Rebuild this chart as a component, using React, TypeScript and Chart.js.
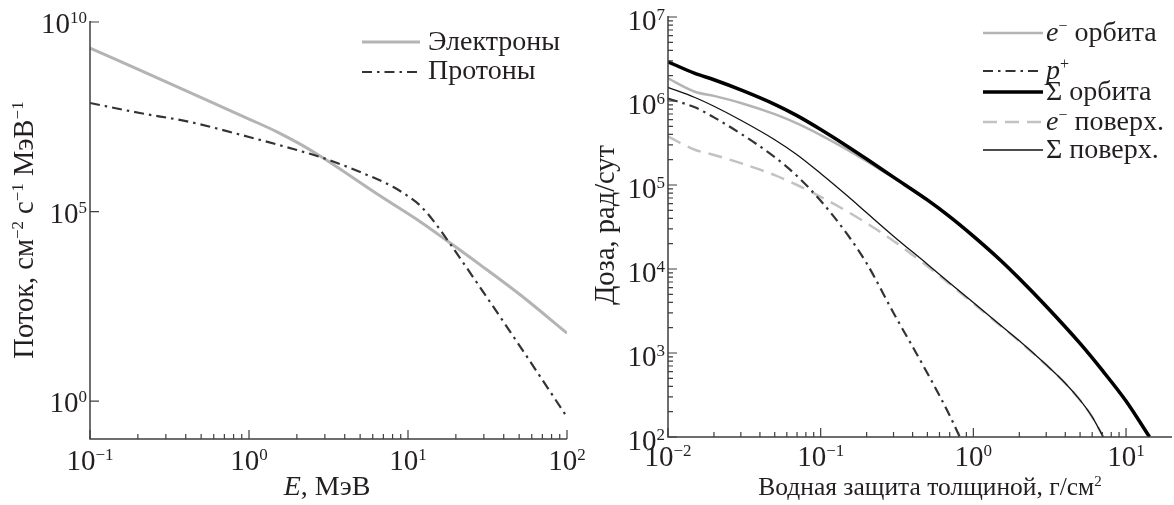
import React, { useEffect, useRef } from 'react';
import { Chart, registerables } from 'chart.js';

Chart.register(...registerables);

// ---------- Left panel: flux spectra ----------
const electronEnergy = [0.1, 0.206, 0.493, 1.0, 1.51, 2.1, 2.93, 6.7, 12, 17.7, 28.6, 51, 100];
const electronFlux = [2.06e9, 5.4e8, 1.05e8, 2.76e7, 1.25e7, 6.0e6, 2.58e6, 2.56e5, 5.3e4, 1.67e4, 3.87e3, 627, 62];
const protonEnergy = [0.1, 0.206, 0.427, 1.0, 1.9, 2.93, 5.01, 8.09, 10.4, 12.0, 14.5, 17.7, 28.6, 51, 100];
const protonFlux = [7.3e7, 3.97e7, 2.3e7, 9.25e6, 4.46e6, 2.58e6, 1.1e6, 4.43e5, 2.27e5, 1.4e5, 5.6e4, 1.77e4, 960, 26.6, 0.38];

const fluxXTicks = [0.1, 1, 10, 100];
const fluxXTickExp = ['−1', '0', '1', '2'];
const fluxYTicks = [1e10, 1e5, 1];
const fluxYTickExp = ['10', '5', '0'];

// ---------- Right panel: dose vs shielding ----------
const orbitDepth = [0.01, 0.015, 0.02, 0.03, 0.05, 0.07, 0.1, 0.15, 0.2, 0.3, 0.5, 0.7, 1, 1.5, 2, 3, 5, 7, 10, 14.25];
const electronOrbitDose = [1.86e6, 1.29e6, 1.15e6, 9.48e5, 6.98e5, 5.42e5, 3.93e5, 2.62e5, 1.92e5, 1.21e5, 6.5e4, 4.12e4, 2.4e4, 1.25e4, 7.55e3, 3.52e3, 1.27e3, 605, 262, 100];
const totalOrbitDose = [2.93e6, 2.13e6, 1.79e6, 1.356e6, 9.13e5, 6.7e5, 4.58e5, 2.88e5, 2.04e5, 1.24e5, 6.64e4, 4.2e4, 2.46e4, 1.28e4, 7.7e3, 3.6e3, 1.3e3, 620, 268, 100];
const protonDepth = [0.01, 0.015, 0.02, 0.03, 0.05, 0.07, 0.1, 0.15, 0.2, 0.3, 0.5, 0.7, 0.815];
const protonDose = [1.07e6, 8.4e5, 6.38e5, 4.08e5, 2.15e5, 1.28e5, 6.5e4, 2.56e4, 1.17e4, 3.0e3, 575, 180, 100];
const surfaceDepth = [0.01, 0.015, 0.02, 0.03, 0.05, 0.07, 0.1, 0.15, 0.2, 0.3, 0.5, 0.7, 1, 1.5, 2, 3, 4, 5, 6, 7.1];
const electronSurfaceDose = [3.76e5, 2.63e5, 2.28e5, 1.82e5, 1.31e5, 1.0e5, 7.23e4, 4.82e4, 3.51e4, 2.16e4, 1.08e4, 6.64e3, 3.89e3, 2.12e3, 1.38e3, 719, 435, 274, 173, 100];
const totalSurfaceDose = [1.45e6, 1.1e6, 8.65e5, 5.9e5, 3.46e5, 2.29e5, 1.37e5, 7.38e4, 4.67e4, 2.46e4, 1.14e4, 6.82e3, 3.98e3, 2.16e3, 1.4e3, 724, 437, 275, 174, 100];

const doseXTicks = [0.01, 0.1, 1, 10];
const doseXTickExp = ['−2', '−1', '0', '1'];
const doseYTicks = [1e2, 1e3, 1e4, 1e5, 1e6, 1e7];
const doseYTickExp = ['2', '3', '4', '5', '6', '7'];

const SERIF = '"Liberation Serif", "Times New Roman", Times, serif';

type Seg = { t: string; it?: boolean; sup?: boolean };

function segFont(s: Seg, size: number) {
  const sz = s.sup ? Math.round(size * 0.58) : size;
  return `${s.it ? 'italic ' : ''}${sz}px ${SERIF}`;
}
function measureSegs(ctx: CanvasRenderingContext2D, segs: Seg[], size: number) {
  let w = 0;
  for (const s of segs) {
    ctx.font = segFont(s, size);
    w += ctx.measureText(s.t).width;
  }
  return w;
}
function drawSegs(ctx: CanvasRenderingContext2D, segs: Seg[], x: number, y: number, size: number, align: 'left' | 'center' | 'right') {
  const w = measureSegs(ctx, segs, size);
  let cx = align === 'left' ? x : align === 'center' ? x - w / 2 : x - w;
  ctx.textAlign = 'left';
  ctx.textBaseline = 'alphabetic';
  for (const s of segs) {
    ctx.font = segFont(s, size);
    ctx.fillText(s.t, cx, s.sup ? y - size * 0.34 : y);
    cx += ctx.measureText(s.t).width;
  }
}

function minorTicks(min: number, max: number) {
  const out: number[] = [];
  for (let d = Math.floor(Math.log10(min)); d <= Math.ceil(Math.log10(max)); d++) {
    for (let m = 2; m <= 9; m++) {
      const v = m * Math.pow(10, d);
      if (v > min && v < max) out.push(v);
    }
  }
  return out;
}

type LegendItem = { label: Seg[]; color: string; width: number; dash: number[]; lineY: number; textY: number };
type Spec = {
  xMajor: number[]; xExp: string[]; xMinor: number[];
  yMajor: number[]; yExp: string[]; yMinor: number[];
  tickSize: number;
  xLabelBaseline: number; yLabelOffset: number; yLabelGap: number;
  xTitle: Seg[]; xTitleX: number; xTitleY: number; xTitleSize: number;
  yTitle: Seg[]; yTitleX: number; yTitleY: number; yTitleSize: number;
  legend: LegendItem[]; legX1: number; legX2: number; legTextX: number; legSize: number;
};

const AXIS = '#3f3f3f';
const TEXT = '#231f20';

function axesPlugin(spec: Spec) {
  return {
    id: 'customAxes',
    afterDraw(chart: any) {
      const ctx: CanvasRenderingContext2D = chart.ctx;
      const { left, right, top, bottom } = chart.chartArea;
      const xs = chart.scales.x;
      const ys = chart.scales.y;
      ctx.save();
      ctx.strokeStyle = AXIS;
      ctx.lineWidth = 1.5;
      ctx.setLineDash([]);
      ctx.beginPath();
      ctx.moveTo(left, top - 1);
      ctx.lineTo(left, bottom);
      ctx.lineTo(right, bottom);
      ctx.stroke();
      ctx.lineWidth = 1.2;
      ctx.beginPath();
      for (const v of spec.xMajor) {
        const p = xs.getPixelForValue(v);
        ctx.moveTo(p, bottom);
        ctx.lineTo(p, bottom - 9);
      }
      for (const v of spec.xMinor) {
        const p = xs.getPixelForValue(v);
        ctx.moveTo(p, bottom);
        ctx.lineTo(p, bottom - 5);
      }
      for (const v of spec.yMajor) {
        const p = ys.getPixelForValue(v);
        ctx.moveTo(left, p);
        ctx.lineTo(left + 9, p);
      }
      for (const v of spec.yMinor) {
        const p = ys.getPixelForValue(v);
        ctx.moveTo(left, p);
        ctx.lineTo(left + 5, p);
      }
      ctx.stroke();

      ctx.fillStyle = TEXT;
      spec.xMajor.forEach((v, i) => {
        const p = xs.getPixelForValue(v);
        drawSegs(ctx, [{ t: '10' }, { t: spec.xExp[i], sup: true }], p, spec.xLabelBaseline, spec.tickSize, 'center');
      });
      spec.yMajor.forEach((v, i) => {
        const p = ys.getPixelForValue(v);
        drawSegs(ctx, [{ t: '10' }, { t: spec.yExp[i], sup: true }], left - spec.yLabelGap, p + spec.yLabelOffset, spec.tickSize, 'right');
      });

      drawSegs(ctx, spec.xTitle, spec.xTitleX, spec.xTitleY, spec.xTitleSize, 'center');
      ctx.save();
      ctx.translate(spec.yTitleX, spec.yTitleY);
      ctx.rotate(-Math.PI / 2);
      drawSegs(ctx, spec.yTitle, 0, 0, spec.yTitleSize, 'center');
      ctx.restore();

      for (const it of spec.legend) {
        ctx.strokeStyle = it.color;
        ctx.lineWidth = it.width;
        ctx.setLineDash(it.dash);
        ctx.beginPath();
        ctx.moveTo(spec.legX1, it.lineY);
        ctx.lineTo(spec.legX2, it.lineY);
        ctx.stroke();
        ctx.setLineDash([]);
        ctx.fillStyle = TEXT;
        drawSegs(ctx, it.label, spec.legTextX, it.textY, spec.legSize, 'left');
      }
      ctx.restore();
    },
  };
}

const GRAY = '#b4b4b4';
const LIGHTGRAY = '#c2c2c2';
const DARK = '#333333';

function pts(xs: number[], ys: number[]) {
  return xs.map((x, i) => ({ x, y: ys[i] }));
}

const baseLine = { pointRadius: 0, fill: false, cubicInterpolationMode: 'monotone' as const, borderCapStyle: 'butt' as const, borderJoinStyle: 'round' as const };

export default function App() {
  const leftRef = useRef<HTMLCanvasElement>(null);
  const rightRef = useRef<HTMLCanvasElement>(null);

  useEffect(() => {
    const leftSpec: Spec = {
      xMajor: fluxXTicks, xExp: fluxXTickExp, xMinor: minorTicks(0.1, 100),
      yMajor: fluxYTicks, yExp: fluxYTickExp, yMinor: [],
      tickSize: 29,
      xLabelBaseline: 470, yLabelOffset: 11, yLabelGap: 3,
      xTitle: [{ t: 'E', it: true }, { t: ', МэВ' }], xTitleX: 327, xTitleY: 495, xTitleSize: 28,
      yTitle: [{ t: 'Поток, см' }, { t: '−2', sup: true }, { t: ' с' }, { t: '−1', sup: true }, { t: ' МэВ' }, { t: '−1', sup: true }],
      yTitleX: 33, yTitleY: 230, yTitleSize: 28.5,
      legend: [
        { label: [{ t: 'Электроны' }], color: GRAY, width: 3, dash: [], lineY: 42, textY: 50 },
        { label: [{ t: 'Протоны' }], color: DARK, width: 2.2, dash: [10, 5, 2.5, 5], lineY: 72, textY: 79 },
      ],
      legX1: 362, legX2: 420, legTextX: 428, legSize: 28,
    };
    const rightSpec: Spec = {
      xMajor: doseXTicks, xExp: doseXTickExp, xMinor: minorTicks(0.01, 20),
      yMajor: doseYTicks, yExp: doseYTickExp, yMinor: minorTicks(100, 1e7),
      tickSize: 29,
      xLabelBaseline: 466, yLabelOffset: 13, yLabelGap: 3,
      xTitle: [{ t: 'Водная защита толщиной, г/см' }, { t: '2', sup: true }], xTitleX: 340, xTitleY: 495, xTitleSize: 25.5,
      yTitle: [{ t: 'Доза, рад/сут' }], yTitleX: 24, yTitleY: 225, yTitleSize: 28.5,
      legend: [
        { label: [{ t: 'e', it: true }, { t: '−', sup: true }, { t: ' орбита' }], color: GRAY, width: 2.5, dash: [], lineY: 33, textY: 41 },
        { label: [{ t: 'p', it: true }, { t: '+', sup: true }], color: DARK, width: 2.2, dash: [10, 5, 2.5, 5], lineY: 71, textY: 79 },
        { label: [{ t: 'Σ орбита' }], color: '#000000', width: 3.5, dash: [], lineY: 92, textY: 100 },
        { label: [{ t: 'e', it: true }, { t: '−', sup: true }, { t: ' поверх.' }], color: LIGHTGRAY, width: 2.5, dash: [14, 8], lineY: 122, textY: 130 },
        { label: [{ t: 'Σ поверх.' }], color: '#111111', width: 1.3, dash: [], lineY: 150, textY: 158 },
      ],
      legX1: 393, legX2: 453, legTextX: 456, legSize: 28,
    };

    // Note: in Chart.js the first dataset is drawn on top.
    const left = new Chart(leftRef.current!, {
      type: 'line',
      data: {
        datasets: [
          { ...baseLine, label: 'Протоны', data: pts(protonEnergy, protonFlux), borderColor: DARK, borderWidth: 2.2, borderDash: [10, 5, 2.5, 5] },
          { ...baseLine, label: 'Электроны', data: pts(electronEnergy, electronFlux), borderColor: GRAY, borderWidth: 3 },
        ],
      },
      options: {
        animation: false,
        responsive: false,
        devicePixelRatio: 1,
        layout: { padding: { left: 90, right: 23, top: 22, bottom: 66 } },
        plugins: { legend: { display: false }, tooltip: { enabled: false } },
        scales: {
          x: { type: 'logarithmic', min: 0.1, max: 100, display: false },
          y: { type: 'logarithmic', min: 0.1, max: 1e10, display: false },
        },
      },
      plugins: [axesPlugin(leftSpec)],
    } as any);

    const right = new Chart(rightRef.current!, {
      type: 'line',
      data: {
        datasets: [
          { ...baseLine, label: 'Σ орбита', data: pts(orbitDepth, totalOrbitDose), borderColor: '#000000', borderWidth: 3.5 },
          { ...baseLine, label: 'Σ поверх.', data: pts(surfaceDepth, totalSurfaceDose), borderColor: '#111111', borderWidth: 1.3 },
          { ...baseLine, label: 'p+', data: pts(protonDepth, protonDose), borderColor: DARK, borderWidth: 2.2, borderDash: [10, 5, 2.5, 5] },
          { ...baseLine, label: 'e− орбита', data: pts(orbitDepth, electronOrbitDose), borderColor: GRAY, borderWidth: 2.5 },
          { ...baseLine, label: 'e− поверх.', data: pts(surfaceDepth, electronSurfaceDose), borderColor: LIGHTGRAY, borderWidth: 2.5, borderDash: [14, 8] },
        ],
      },
      options: {
        animation: false,
        responsive: false,
        devicePixelRatio: 1,
        layout: { padding: { left: 78, right: 2, top: 17, bottom: 68 } },
        plugins: { legend: { display: false }, tooltip: { enabled: false } },
        scales: {
          x: { type: 'logarithmic', min: 0.01, max: 20, display: false },
          y: { type: 'logarithmic', min: 100, max: 1e7, display: false },
        },
      },
      plugins: [axesPlugin(rightSpec)],
    } as any);

    return () => {
      left.destroy();
      right.destroy();
    };
  }, []);

  return (
    <div style={{ position: 'absolute', left: 0, top: 0, width: 1174, height: 505, background: '#ffffff', overflow: 'hidden' }}>
      <canvas ref={leftRef} width={590} height={505} style={{ position: 'absolute', left: 0, top: 0, width: 590, height: 505 }} />
      <canvas ref={rightRef} width={584} height={505} style={{ position: 'absolute', left: 590, top: 0, width: 584, height: 505 }} />
    </div>
  );
}
